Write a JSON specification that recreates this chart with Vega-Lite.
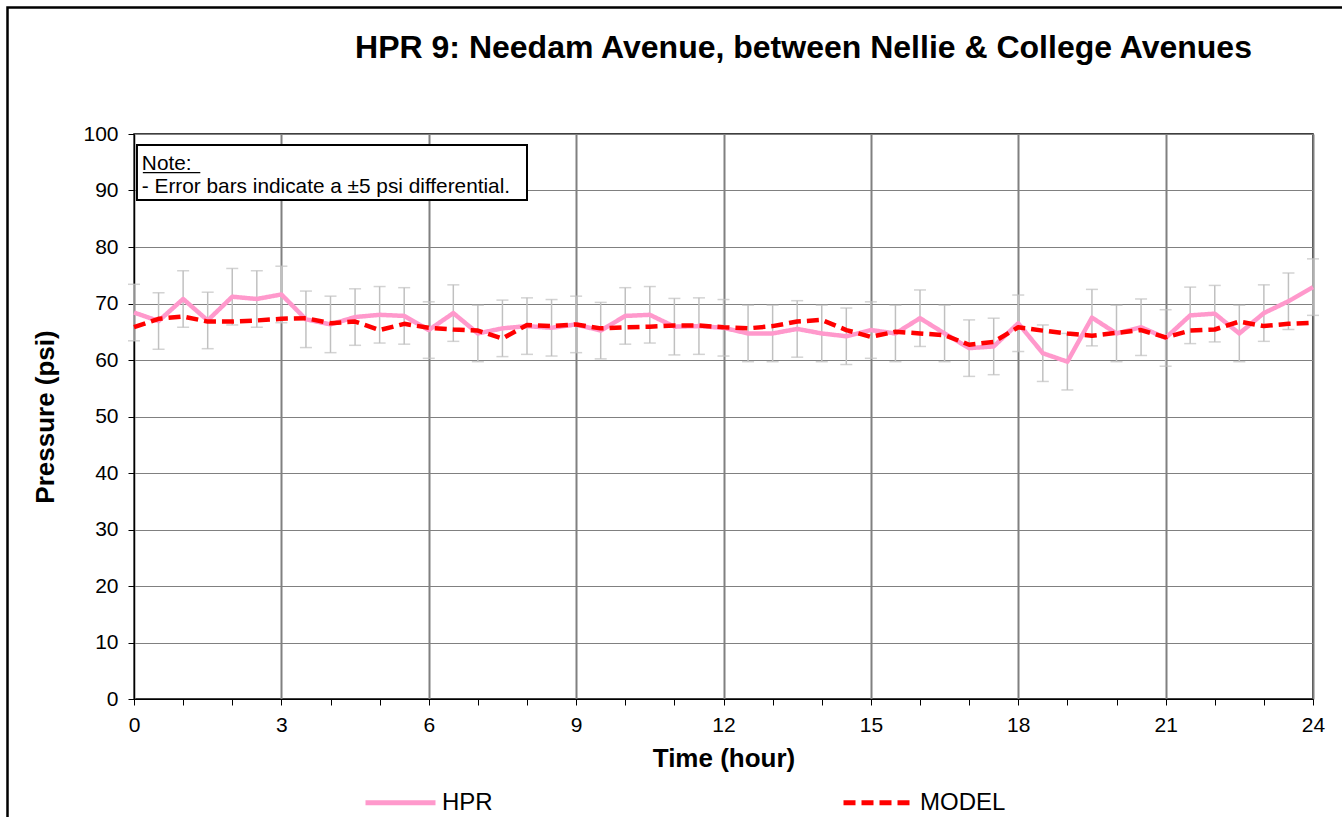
{
  "$schema": "https://vega.github.io/schema/vega-lite/v6.json",
  "width": 1179,
  "height": 565,
  "autosize": {"type": "none"},
  "padding": {"left": 134, "top": 134, "right": 29, "bottom": 118},
  "background": "white",
  "title": {
    "text": "HPR 9: Needam Avenue, between Nellie & College Avenues",
    "font": "Liberation Sans",
    "fontSize": 32,
    "fontWeight": "bold",
    "color": "black",
    "anchor": "middle",
    "dx": 80,
    "offset": -59
  },
  "datasets": {
    "series": [
      {"t": 0, "series": "HPR", "p": 68.4, "err": 5}, {"t": 0.5, "series": "HPR", "p": 66.9, "err": 5}, {"t": 1, "series": "HPR", "p": 70.8, "err": 5}, {"t": 1.5, "series": "HPR", "p": 67.0, "err": 5},
      {"t": 2, "series": "HPR", "p": 71.2, "err": 5}, {"t": 2.5, "series": "HPR", "p": 70.8, "err": 5}, {"t": 3, "series": "HPR", "p": 71.6, "err": 5}, {"t": 3.5, "series": "HPR", "p": 67.2, "err": 5},
      {"t": 4, "series": "HPR", "p": 66.3, "err": 5}, {"t": 4.5, "series": "HPR", "p": 67.6, "err": 5}, {"t": 5, "series": "HPR", "p": 68.0, "err": 5}, {"t": 5.5, "series": "HPR", "p": 67.8, "err": 5},
      {"t": 6, "series": "HPR", "p": 65.3, "err": 5}, {"t": 6.5, "series": "HPR", "p": 68.3, "err": 5}, {"t": 7, "series": "HPR", "p": 64.7, "err": 5}, {"t": 7.5, "series": "HPR", "p": 65.6, "err": 5},
      {"t": 8, "series": "HPR", "p": 66.0, "err": 5}, {"t": 8.5, "series": "HPR", "p": 65.7, "err": 5}, {"t": 9, "series": "HPR", "p": 66.3, "err": 5}, {"t": 9.5, "series": "HPR", "p": 65.2, "err": 5},
      {"t": 10, "series": "HPR", "p": 67.8, "err": 5}, {"t": 10.5, "series": "HPR", "p": 68.0, "err": 5}, {"t": 11, "series": "HPR", "p": 65.9, "err": 5}, {"t": 11.5, "series": "HPR", "p": 66.0, "err": 5},
      {"t": 12, "series": "HPR", "p": 65.7, "err": 5}, {"t": 12.5, "series": "HPR", "p": 64.7, "err": 5}, {"t": 13, "series": "HPR", "p": 64.7, "err": 5}, {"t": 13.5, "series": "HPR", "p": 65.5, "err": 5},
      {"t": 14, "series": "HPR", "p": 64.7, "err": 5}, {"t": 14.5, "series": "HPR", "p": 64.2, "err": 5}, {"t": 15, "series": "HPR", "p": 65.3, "err": 5}, {"t": 15.5, "series": "HPR", "p": 64.7, "err": 5},
      {"t": 16, "series": "HPR", "p": 67.4, "err": 5}, {"t": 16.5, "series": "HPR", "p": 64.7, "err": 5}, {"t": 17, "series": "HPR", "p": 62.1, "err": 5}, {"t": 17.5, "series": "HPR", "p": 62.4, "err": 5},
      {"t": 18, "series": "HPR", "p": 66.5, "err": 5}, {"t": 18.5, "series": "HPR", "p": 61.2, "err": 5}, {"t": 19, "series": "HPR", "p": 59.7, "err": 5}, {"t": 19.5, "series": "HPR", "p": 67.5, "err": 5},
      {"t": 20, "series": "HPR", "p": 64.7, "err": 5}, {"t": 20.5, "series": "HPR", "p": 65.8, "err": 5}, {"t": 21, "series": "HPR", "p": 63.9, "err": 5}, {"t": 21.5, "series": "HPR", "p": 67.9, "err": 5},
      {"t": 22, "series": "HPR", "p": 68.2, "err": 5}, {"t": 22.5, "series": "HPR", "p": 64.7, "err": 5}, {"t": 23, "series": "HPR", "p": 68.3, "err": 5}, {"t": 23.5, "series": "HPR", "p": 70.4, "err": 5},
      {"t": 24, "series": "HPR", "p": 72.9, "err": 5},
      {"t": 0, "series": "MODEL", "p": 65.8}, {"t": 0.5, "series": "MODEL", "p": 67.3}, {"t": 1, "series": "MODEL", "p": 67.7}, {"t": 1.5, "series": "MODEL", "p": 66.8},
      {"t": 2, "series": "MODEL", "p": 66.8}, {"t": 2.5, "series": "MODEL", "p": 67.0}, {"t": 3, "series": "MODEL", "p": 67.3}, {"t": 3.5, "series": "MODEL", "p": 67.4},
      {"t": 4, "series": "MODEL", "p": 66.5}, {"t": 4.5, "series": "MODEL", "p": 66.8}, {"t": 5, "series": "MODEL", "p": 65.3}, {"t": 5.5, "series": "MODEL", "p": 66.4},
      {"t": 6, "series": "MODEL", "p": 65.7}, {"t": 6.5, "series": "MODEL", "p": 65.4}, {"t": 7, "series": "MODEL", "p": 65.2}, {"t": 7.5, "series": "MODEL", "p": 63.8},
      {"t": 8, "series": "MODEL", "p": 66.2}, {"t": 8.5, "series": "MODEL", "p": 66.0}, {"t": 9, "series": "MODEL", "p": 66.3}, {"t": 9.5, "series": "MODEL", "p": 65.6},
      {"t": 10, "series": "MODEL", "p": 65.8}, {"t": 10.5, "series": "MODEL", "p": 65.9}, {"t": 11, "series": "MODEL", "p": 66.1}, {"t": 11.5, "series": "MODEL", "p": 66.1},
      {"t": 12, "series": "MODEL", "p": 65.8}, {"t": 12.5, "series": "MODEL", "p": 65.6}, {"t": 13, "series": "MODEL", "p": 66.0}, {"t": 13.5, "series": "MODEL", "p": 66.8},
      {"t": 14, "series": "MODEL", "p": 67.1}, {"t": 14.5, "series": "MODEL", "p": 65.3}, {"t": 15, "series": "MODEL", "p": 64.1}, {"t": 15.5, "series": "MODEL", "p": 65.0},
      {"t": 16, "series": "MODEL", "p": 64.7}, {"t": 16.5, "series": "MODEL", "p": 64.4}, {"t": 17, "series": "MODEL", "p": 62.7}, {"t": 17.5, "series": "MODEL", "p": 63.2},
      {"t": 18, "series": "MODEL", "p": 65.8}, {"t": 18.5, "series": "MODEL", "p": 65.2}, {"t": 19, "series": "MODEL", "p": 64.7}, {"t": 19.5, "series": "MODEL", "p": 64.3},
      {"t": 20, "series": "MODEL", "p": 64.8}, {"t": 20.5, "series": "MODEL", "p": 65.3}, {"t": 21, "series": "MODEL", "p": 64.0}, {"t": 21.5, "series": "MODEL", "p": 65.2},
      {"t": 22, "series": "MODEL", "p": 65.4}, {"t": 22.5, "series": "MODEL", "p": 66.8}, {"t": 23, "series": "MODEL", "p": 66.0}, {"t": 23.5, "series": "MODEL", "p": 66.4},
      {"t": 24, "series": "MODEL", "p": 66.6}
    ],
    "frame": [{"x1": -2.575, "x2": 26.5, "y1": 122.4, "y2": -30}],
    "note": [{"x1": 0.06, "x2": 8.0, "y1": 98.05, "y2": 88.3}],
    "noteText": [
      {"x": 0.16, "y": 93.6, "label": "Note:"},
      {"x": 0.16, "y": 89.5, "label": "- Error bars indicate a ±5 psi differential."}
    ],
    "underline": [{"x1": 0.18, "x2": 1.35, "y": 93.15}]
  },
  "layer": [
    {
      "data": {"name": "frame"},
      "mark": {"type": "rect", "fill": null, "fillOpacity": 0, "stroke": "black", "strokeWidth": 2.5, "clip": false},
      "encoding": {
        "x": {"field": "x1", "type": "quantitative"},
        "x2": {"field": "x2"},
        "y": {"field": "y1", "type": "quantitative"},
        "y2": {"field": "y2"}
      }
    },
    {
      "data": {"name": "series"},
      "transform": [{"filter": "datum.series === 'HPR'"}],
      "mark": {"type": "errorbar", "color": "#c0c0c0", "thickness": 1.5, "ticks": {"size": 12, "color": "#c0c0c0", "thickness": 1.5}},
      "encoding": {
        "x": {"field": "t", "type": "quantitative", "title": "Time (hour)"},
        "y": {"field": "p", "type": "quantitative", "title": "Pressure (psi)"},
        "yError": {"field": "err"}
      }
    },
    {
      "data": {"name": "series"},
      "mark": {"type": "line", "strokeWidth": 4.5, "strokeCap": "butt", "strokeJoin": "round"},
      "encoding": {
        "x": {
          "field": "t", "type": "quantitative",
          "title": "Time (hour)",
          "scale": {"domain": [0, 24], "nice": false, "zero": false},
          "axis": {
            "title": "Time (hour)",
            "values": [0, 1, 2, 3, 4, 5, 6, 7, 8, 9, 10, 11, 12, 13, 14, 15, 16, 17, 18, 19, 20, 21, 22, 23, 24],
            "labelExpr": "datum.value % 3 === 0 ? datum.label : ''",
            "format": "d",
            "labelFlush": false,
            "labelOverlap": false,
            "grid": true,
            "gridColor": {"condition": {"test": "datum.value % 3 === 0", "value": "#808080"}, "value": "transparent"},
            "gridWidth": 2,
            "tickColor": "black", "tickSize": 6,
            "labelPadding": 9,
            "titlePadding": 10,
            "domainColor": "black"
          }
        },
        "y": {
          "field": "p", "type": "quantitative",
          "title": "Pressure (psi)",
          "scale": {"domain": [0, 100], "nice": false},
          "axis": {
            "title": "Pressure (psi)",
            "values": [0, 5, 10, 15, 20, 25, 30, 35, 40, 45, 50, 55, 60, 65, 70, 75, 80, 85, 90, 95, 100],
            "labelExpr": "datum.value % 10 === 0 ? datum.label : ''",
            "labelOverlap": false,
            "labelFlush": false,
            "grid": true,
            "gridColor": {"condition": {"test": "datum.value % 10 === 0", "value": "#808080"}, "value": "#c8c8c8"},
            "gridWidth": {"condition": {"test": "datum.value % 10 === 0", "value": 1}, "value": 2},
            "tickColor": {"condition": {"test": "datum.value % 10 === 0", "value": "black"}, "value": "transparent"},
            "tickSize": 6,
            "labelPadding": 10,
            "titlePadding": 24,
            "domainColor": "black"
          }
        },
        "color": {
          "field": "series", "type": "nominal",
          "scale": {"domain": ["HPR", "MODEL"], "range": ["#ff99cc", "#ff0000"]},
          "legend": {
            "title": null,
            "orient": "none",
            "direction": "horizontal",
            "legendX": 229,
            "legendY": 631,
            "symbolType": "stroke",
            "symbolSize": 4900,
            "symbolStrokeWidth": 5,
            "labelFontSize": 24,
            "labelFont": "Liberation Sans",
            "labelColor": "black",
            "labelOffset": 4,
            "columnPadding": 340
          }
        },
        "strokeDash": {
          "field": "series", "type": "nominal",
          "scale": {"domain": ["HPR", "MODEL"], "range": [[1, 0], [12, 6]]},
          "legend": null
        },
        "order": {"field": "t", "type": "quantitative"}
      }
    },
    {
      "data": {"name": "note"},
      "mark": {"type": "rect", "fill": "white", "stroke": "black", "strokeWidth": 2},
      "encoding": {
        "x": {"field": "x1", "type": "quantitative"},
        "x2": {"field": "x2"},
        "y": {"field": "y1", "type": "quantitative"},
        "y2": {"field": "y2"}
      }
    },
    {
      "data": {"name": "noteText"},
      "mark": {"type": "text", "align": "left", "baseline": "alphabetic", "font": "Liberation Sans", "fontSize": 20.8, "color": "black"},
      "encoding": {
        "x": {"field": "x", "type": "quantitative"},
        "y": {"field": "y", "type": "quantitative"},
        "text": {"field": "label"}
      }
    },
    {
      "data": {"name": "underline"},
      "mark": {"type": "rule", "color": "black", "strokeWidth": 1.2},
      "encoding": {
        "x": {"field": "x1", "type": "quantitative"},
        "x2": {"field": "x2"},
        "y": {"field": "y", "type": "quantitative"}
      }
    }
  ],
  "config": {
    "view": {"stroke": "black", "strokeWidth": 1.5},
    "font": "Liberation Sans",
    "axis": {
      "labelFont": "Liberation Sans",
      "labelFontSize": 21,
      "labelColor": "black",
      "titleFont": "Liberation Sans",
      "titleFontSize": 26,
      "titleFontWeight": "bold",
      "titleColor": "black"
    }
  }
}
